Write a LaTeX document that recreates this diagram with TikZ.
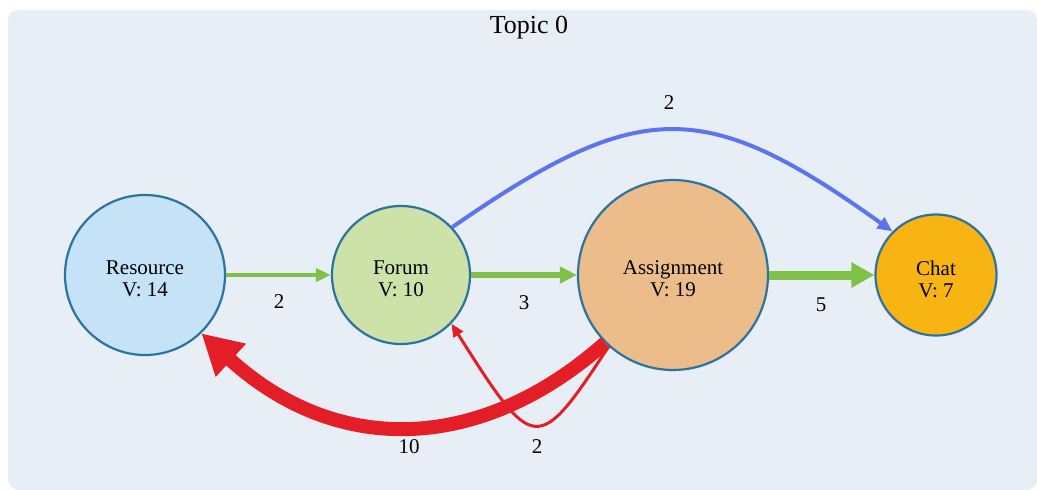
\documentclass[tikz,border=0pt]{standalone}
\usepackage{fontspec}
\setmainfont{Liberation Serif}
\usetikzlibrary{arrows.meta}

\definecolor{panel}{RGB}{232,238,246}
\definecolor{rim}{RGB}{44,114,162}
\definecolor{resfill}{RGB}{198,226,247}
\definecolor{forfill}{RGB}{205,226,168}
\definecolor{asgfill}{RGB}{236,189,138}
\definecolor{chatfill}{RGB}{247,180,18}
\definecolor{flowgreen}{RGB}{126,192,72}
\definecolor{flowblue}{RGB}{92,116,240}
\definecolor{flowred}{RGB}{228,30,38}

\tikzset{
  vertex/.style={circle, draw=rim, line width=2.2pt, inner sep=0pt, minimum size=#1},
  vtext/.style={align=center, inner sep=0pt, font=\fontsize{21}{22}\selectfont, text=black},
  elabel/.style={inner sep=0pt, font=\fontsize{21}{24}\selectfont},
  greenflow/.style={draw=flowgreen, line width=#1},
  blueflow/.style={draw=flowblue, line width=#1},
  redflow/.style={draw=flowred, line width=#1},
}

\begin{document}
\begin{tikzpicture}[x=1pt,y=-1pt]
\useasboundingbox (0,0) rectangle (1037,490);
\fill[panel, rounded corners=10pt] (8,10) rectangle (1037,490);

\node[font=\fontsize{26}{28}\selectfont, inner sep=0pt] (title) at (529,28) {Topic 0};

% activity nodes
\node[vertex=160pt, fill=resfill]  (res)  at (145,275) {};
\node[vertex=138pt, fill=forfill]  (for)  at (401,275) {};
\node[vertex=190pt, fill=asgfill]  (asg)  at (673,275) {};
\node[vertex=121pt, fill=chatfill] (chat) at (936,275) {};

% transitions
\draw[greenflow=4.5pt, -{Triangle[length=15pt,width=13pt]}] (res) -- (for);
\draw[greenflow=6pt, -{Triangle[length=17pt,width=16pt]}] (for) -- (asg);
\draw[greenflow=9pt, -{Triangle[length=23pt,width=24pt]}] (asg) -- (chat);

\draw[blueflow=4pt, -{Triangle[length=15pt,width=13pt]}]
  (for.43) .. controls (640,97) and (705,97) .. (chat.135);

\draw[redflow=14pt, -{Triangle[length=40pt,width=42pt]}]
  (asg.225) .. controls (482,452) and (338,458) .. (res.314);

\draw[redflow=3pt, -{Triangle[length=13pt,width=11pt]}]
  (asg.228) .. controls (537,456) and (534,454) .. (for.316);

% node captions
\node[vtext] (restext)  at ([yshift=-4pt]res.center)  {Resource\\V: 14};
\node[vtext] (fortext)  at ([yshift=-4pt]for.center)  {Forum\\V: 10};
\node[vtext] (asgtext)  at ([yshift=-4pt]asg.center)  {Assignment\\V: 19};
\node[vtext] (chattext) at ([yshift=-4pt]chat.center) {Chat\\V: 7};

% transition counts
\node[elabel] (l1) at (279,302) {2};
\node[elabel] (l2) at (524,303) {3};
\node[elabel] (l3) at (821,305) {5};
\node[elabel] (l4) at (669,103) {2};
\node[elabel] (l5) at (409,447) {10};
\node[elabel] (l6) at (537,447) {2};
\end{tikzpicture}
\end{document}
